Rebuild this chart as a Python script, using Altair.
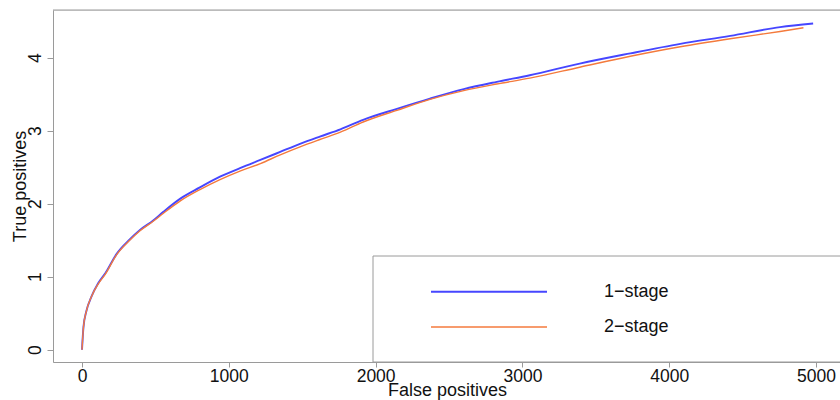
import altair as alt
import pandas as pd

# ROC-style curves: true positives against false positives for two classifiers
fp_one = [0, 10, 30, 65, 110, 160, 235, 325, 395, 485, 555, 670, 800, 940, 1080,
          1215, 1350, 1485, 1620, 1760, 1915, 2145, 2370, 2600, 2825, 3050, 3390,
          3735, 4075, 4415, 4755, 4980]
tp_one = [0, 0.31, 0.53, 0.73, 0.91, 1.05, 1.31, 1.51, 1.64, 1.77, 1.89, 2.07, 2.22,
          2.37, 2.49, 2.60, 2.71, 2.82, 2.92, 3.02, 3.15, 3.30, 3.44, 3.57, 3.67,
          3.76, 3.92, 4.06, 4.19, 4.30, 4.42, 4.47]

fp_two = [0, 10, 30, 65, 110, 160, 235, 325, 395, 485, 555, 670, 800, 940, 1080,
          1215, 1350, 1485, 1620, 1760, 1915, 2145, 2370, 2600, 2825, 3050, 3390,
          3735, 4075, 4415, 4755, 4914]
tp_two = [0, 0.31, 0.53, 0.73, 0.90, 1.04, 1.30, 1.50, 1.63, 1.76, 1.87, 2.04, 2.19,
          2.33, 2.45, 2.55, 2.67, 2.78, 2.88, 2.98, 3.12, 3.28, 3.43, 3.55, 3.64,
          3.72, 3.87, 4.02, 4.15, 4.26, 4.36, 4.41]

series_names = ["1\u2212stage", "2\u2212stage"]
series_colors = ["#4646ff", "#f47a3c"]
series_widths = [1.9, 1.4]

x_ticks = [0, 1000, 2000, 3000, 4000, 5000]
y_ticks = [0, 1, 2, 3, 4]

W, H = 787, 352
FRAME = "#9a9a9a"
FONT = "Liberation Sans"
TICK_FS = 17.5
TITLE_FS = 18

df_one = pd.DataFrame({"fp": fp_one, "tp": tp_one})
df_two = pd.DataFrame({"fp": fp_two, "tp": tp_two})

x_scale = alt.Scale(domain=[-197.5, 5163], nice=False, zero=False)
y_scale = alt.Scale(domain=[-0.168, 4.654], nice=False, zero=False)

x_axis = alt.Axis(values=x_ticks, title="False positives", grid=False,
                  labelFontSize=TICK_FS, titleFontSize=TITLE_FS, labelFont=FONT,
                  titleFont=FONT, labelColor="#111", titleColor="#111",
                  titleFontWeight="normal", tickSize=5, labelPadding=0,
                  labelFlush=False, labelOverlap=False,
                  domainColor=FRAME, tickColor=FRAME, format="d",
                  titleX=394, titleY=33, titleBaseline="alphabetic", titleAlign="center")
y_axis = alt.Axis(values=y_ticks, title="True positives", grid=False,
                  labelFontSize=TICK_FS, titleFontSize=TITLE_FS, labelFont=FONT,
                  titleFont=FONT, labelColor="#111", titleColor="#111",
                  titleFontWeight="normal", format="d",
                  tickSize=6, labelPadding=3, labelAngle=270, labelAlign="center",
                  labelBaseline="bottom", labelFlush=False, labelOverlap=False,
                  domainColor=FRAME, tickColor=FRAME,
                  titleAngle=270, titleX=-28, titleY=176, titleBaseline="alphabetic",
                  titleAlign="center")

line_one = alt.Chart(df_one).mark_line(
    color=series_colors[0], strokeWidth=series_widths[0], interpolate="monotone"
).encode(
    x=alt.X("fp:Q", scale=x_scale, axis=x_axis),
    y=alt.Y("tp:Q", scale=y_scale, axis=y_axis),
    order="fp:Q",
)

line_two = alt.Chart(df_two).mark_line(
    color=series_colors[1], strokeWidth=series_widths[1], interpolate="monotone"
).encode(
    x=alt.X("fp:Q", scale=x_scale),
    y=alt.Y("tp:Q", scale=y_scale),
    order="fp:Q",
)

# top edge of the plot box
top_edge = alt.Chart().mark_rule(color=FRAME, strokeWidth=1).encode(
    x=alt.value(0), x2=alt.value(W + 3), y=alt.value(0)
)

# boxed legend in the lower right corner
legend_layers = [
    alt.Chart().mark_rect(fill="white", stroke=FRAME, strokeWidth=1).encode(
        x=alt.value(320), x2=alt.value(W + 3), y=alt.value(246), y2=alt.value(H)
    )
]
for i, (name, col, sw) in enumerate(zip(series_names, series_colors, series_widths)):
    ly = 281.7 + i * 35.3
    legend_layers.append(
        alt.Chart().mark_rule(color=col, strokeWidth=sw).encode(
            x=alt.value(378), x2=alt.value(494), y=alt.value(ly)
        )
    )
    legend_layers.append(
        alt.Chart().mark_text(text=name, align="left", baseline="middle",
                              font=FONT, fontSize=TITLE_FS, color="#111").encode(
            x=alt.value(551), y=alt.value(ly)
        )
    )

chart = alt.layer(line_one, line_two, top_edge, *legend_layers).properties(
    width=W, height=H,
    autosize=alt.AutoSizeParams(type="none"),
    padding={"left": 53, "top": 10, "right": 0, "bottom": 38},
).configure_view(stroke=None).configure(background="white")

chart.save("out.html", embed_options={"renderer": "svg", "actions": False})
